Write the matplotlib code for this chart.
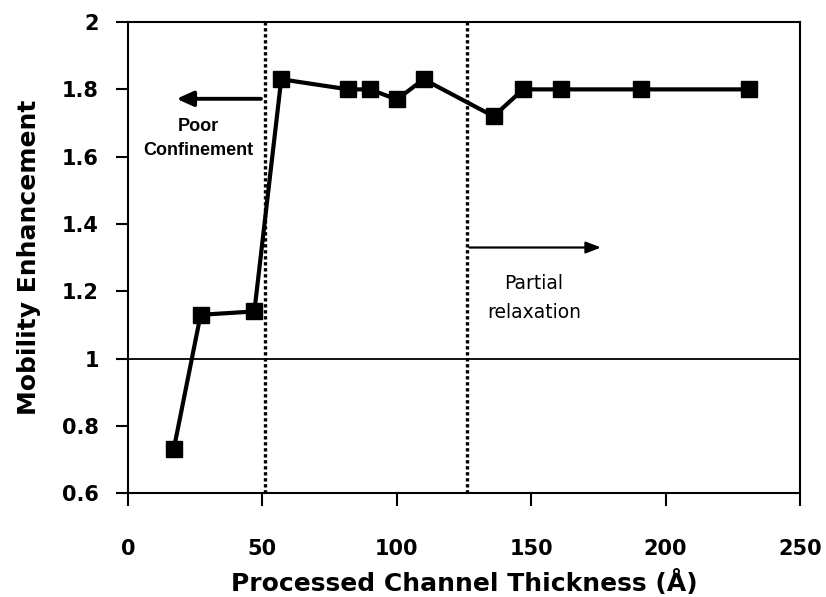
import matplotlib.pyplot as plt

# data
thickness = [17, 27, 47, 57, 82, 90, 100, 110, 136, 147, 161, 191, 231]
enhancement = [0.73, 1.13, 1.14, 1.83, 1.80, 1.80, 1.77, 1.83, 1.72, 1.80, 1.80, 1.80, 1.80]
x_ticks = [0, 50, 100, 150, 200, 250]
y_ticks = [0.6, 0.8, 1.0, 1.2, 1.4, 1.6, 1.8, 2.0]
y_tick_labels = ['0.6', '0.8', '1', '1.2', '1.4', '1.6', '1.8', '2']
boundaries = [51, 126]

plt.rcParams['font.family'] = ['DejaVu Sans']

fig = plt.figure(figsize=(8.26, 5.97), dpi=100)
ax = fig.add_axes([0.155, 0.174, 0.8135, 0.789])

ax.axhline(1.0, color='black', lw=1.3, zorder=1)
for b in boundaries:
    ax.axvline(b, color='black', lw=2.4, ls=(0, (1, 0.8)), zorder=1)

ax.plot(thickness, enhancement, color='black', lw=3, marker='s', ms=11,
        zorder=3)

# annotations
ax.annotate('', xy=(17, 1.772), xytext=(50.5, 1.772),
            arrowprops=dict(arrowstyle='-|>,head_length=1.0,head_width=0.45',
                            color='black', lw=2.8))
ax.text(26, 1.653, 'Poor\nConfinement', ha='center', va='center',
        fontsize=13, fontweight='bold', family='Liberation Sans',
        linespacing=1.55)

ax.annotate('', xy=(177, 1.33), xytext=(126, 1.33),
            arrowprops=dict(arrowstyle='-|>,head_length=0.9,head_width=0.35',
                            color='black', lw=1.6))
ax.text(151, 1.18, 'Partial\nrelaxation', ha='center', va='center',
        fontsize=13.5, linespacing=1.65)

ax.set_xlim(0, 250)
ax.set_ylim(0.6, 2.0)
ax.set_xticks(x_ticks)
ax.set_yticks(y_ticks)
ax.set_yticklabels(y_tick_labels)
ax.tick_params(direction='out', length=9, width=1.5, labelsize=15)
ax.tick_params(axis='x', pad=24)
ax.tick_params(axis='y', pad=12)
for lab in ax.get_xticklabels() + ax.get_yticklabels():
    lab.set_fontweight('bold')
for s in ax.spines.values():
    s.set_linewidth(1.5)

ax.set_xlabel('Processed Channel Thickness (Å)', fontsize=18,
              fontweight='bold', labelpad=8)
ax.set_ylabel('Mobility Enhancement', fontsize=18, fontweight='bold',
              labelpad=15)

plt.savefig('out.png', dpi=100)
